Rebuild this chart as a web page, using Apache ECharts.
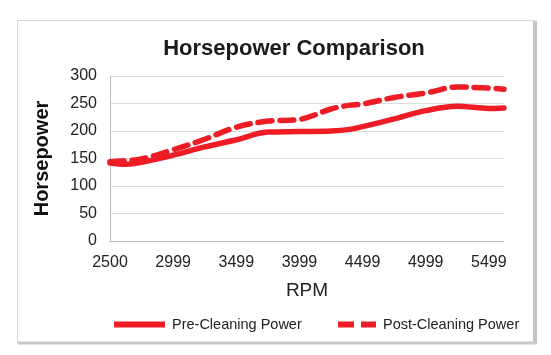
<!DOCTYPE html>
<html><head><meta charset="utf-8">
<script src="https://cdn.jsdelivr.net/npm/echarts@6/dist/echarts.min.js"></script>
<style>html,body{margin:0;padding:0;background:#fff}#c{width:551px;height:355px}</style>
</head><body><div id="c"></div>
<script>
const rpm      = [2500, 2625, 2750, 3000, 3250, 3500, 3750, 4000, 4250, 4400, 4500, 4750, 5000, 5250, 5500, 5620];
const preHP    = [142, 139.5, 143, 156, 171, 184, 198, 199, 200, 203, 208, 222, 237, 245, 241, 242];
const postHP   = [144, 146, 149, 166, 185, 207, 218, 221, 240, 247, 249, 261, 269, 280, 278, 276];
const xTickLabels = ['2500', '2999', '3499', '3999', '4499', '4999', '5499'];
const yTicks = [0, 50, 100, 150, 200, 250, 300];
const seriesNames = ['Pre-Cleaning Power', 'Post-Cleaning Power'];

const chart = echarts.init(document.getElementById('c'), null, {renderer: 'canvas'});
const red = '#ee1c25';
const font = '"Liberation Sans", Arial, sans-serif';
const legendBase = {
  bottom: 18, itemHeight: 6, itemGap: 0, selectedMode: false,
  textStyle: {fontSize: 14.5, color: '#222', fontFamily: font, padding: [0, 0, 0, 2]}
};
chart.setOption({
  animation: false,
  backgroundColor: '#fff',
  textStyle: {fontFamily: font},
  graphic: [
    {type: 'rect', shape: {x: 17.5, y: 20.5, width: 517, height: 322}, style: {fill: 'none', stroke: '#d4d4d4', lineWidth: 1}},
    {type: 'line', shape: {x1: 535, y1: 21, x2: 535, y2: 344}, style: {stroke: '#c4c4c4', lineWidth: 4}},
    {type: 'line', shape: {x1: 18, y1: 343, x2: 537, y2: 343}, style: {stroke: '#c8c8c8', lineWidth: 3}}
  ],
  title: {
    text: 'Horsepower Comparison', left: 289, top: 33, textAlign: 'center',
    textStyle: {fontSize: 22, fontWeight: 'bold', color: '#1a1a1a', fontFamily: font}
  },
  legend: [
    Object.assign({}, legendBase, {left: 109, itemWidth: 51,
      data: [{name: seriesNames[0], icon: 'path://M0,0H51V6H0Z'}]}),
    Object.assign({}, legendBase, {left: 333, itemWidth: 38,
      data: [{name: seriesNames[1], icon: 'path://M0,0H16V6H0Z M23,0H38V6H23Z'}]})
  ],
  grid: {left: 110, right: 47, top: 76, bottom: 114, containLabel: false},
  xAxis: {
    type: 'value', min: 2500, max: 5620, interval: 500,
    name: 'RPM', nameLocation: 'middle', nameGap: 40,
    nameTextStyle: {fontSize: 19, color: '#222', fontFamily: font},
    axisLine: {show: true, lineStyle: {color: '#bdbdbd', width: 1}},
    axisTick: {show: false},
    splitLine: {show: false},
    axisLabel: {
      fontSize: 16, color: '#222', margin: 14, showMaxLabel: false,
      formatter: v => { const i = Math.round((v - 2500) / 500); return xTickLabels[i] || ''; }
    }
  },
  yAxis: {
    type: 'value', min: yTicks[0], max: yTicks[yTicks.length - 1], interval: 50,
    name: 'Horsepower', nameLocation: 'middle', nameGap: 58, nameRotate: 90,
    nameTextStyle: {fontSize: 20, fontWeight: 'bold', color: '#111', fontFamily: font},
    axisLine: {show: true, lineStyle: {color: '#bdbdbd', width: 1}},
    axisTick: {show: false},
    splitLine: {lineStyle: {color: '#dcdcdc', width: 1}},
    axisLabel: {fontSize: 16, color: '#222', margin: 13}
  },
  series: [
    {
      name: seriesNames[0], type: 'line', smooth: 0.35, symbol: 'none',
      data: rpm.map((r, i) => [r, preHP[i]]),
      lineStyle: {color: red, width: 5.5, cap: 'round'}, itemStyle: {color: red}
    },
    {
      name: seriesNames[1], type: 'line', smooth: 0.35, symbol: 'none',
      data: rpm.map((r, i) => [r, postHP[i]]),
      lineStyle: {color: red, width: 5.5, type: [14, 8], cap: 'round'}, itemStyle: {color: red}
    }
  ]
});
</script></body></html>
